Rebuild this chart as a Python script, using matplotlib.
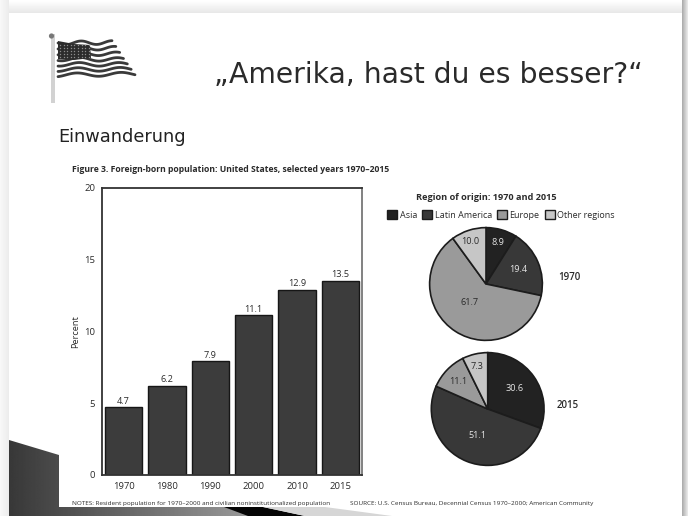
import numpy as np
import matplotlib
matplotlib.use('Agg')
import matplotlib.pyplot as plt
from matplotlib.patches import Polygon, Rectangle

W, H = 688, 516

# chart values
years = ['1970', '1980', '1990', '2000', '2010', '2015']
percent = [4.7, 6.2, 7.9, 11.1, 12.9, 13.5]
regions = ['Asia', 'Latin America', 'Europe', 'Other regions']
share_1970 = [8.9, 19.4, 61.7, 10.0]
share_2015 = [30.6, 51.1, 11.1, 7.3]
y_ticks = [0, 5, 10, 15, 20]

region_colors = ['#222222', '#383838', '#9a9a9a', '#c6c6c6']
label_colors = ['#e6e6e6', '#e6e6e6', '#2a2a2a', '#2a2a2a']
label_pos_1970 = [(.21, .74), (.58, .25), (-.30, -.32), (-.28, .75)]
label_pos_2015 = [(.48, .37), (-.19, -.47), (-.53, .49), (-.19, .75)]

CHART_FONT = 'Open Sans'
TEXT = '#2b2b2b'


def px_axes(fig, left, top, right, bottom, **kw):
    return fig.add_axes([left / W, 1 - bottom / H, (right - left) / W, (bottom - top) / H], **kw)


def gradient_fill(ax, poly, cmin, cmax, extent):
    # horizontal gray ramp clipped to a polygon
    ramp = np.linspace(cmin, cmax, 256).reshape(1, -1)
    im = ax.imshow(ramp, cmap='gray', vmin=0, vmax=1, extent=extent, aspect='auto', zorder=2)
    patch = Polygon(poly, closed=True, transform=ax.transData, fc='none', ec='none')
    ax.add_patch(patch)
    im.set_clip_path(patch)


def draw_slide(ax):
    # drop shadow around the slide
    yy, xx = np.mgrid[0:H, 0:W]
    shade = np.full((H, W), 0.97)
    shade = np.where(yy < 13, 1.0 - 0.10 * yy / 13, shade)
    shade = np.where(xx < 9, 0.97 - 0.05 * xx / 9, shade)
    right = np.clip((xx - 682) / 6, 0, 1)
    shade = np.where(xx >= 682, 0.68 + 0.27 * right, shade)
    ax.imshow(shade, cmap='gray', vmin=0, vmax=1, extent=(0, W, H, 0), aspect='auto', zorder=0)
    ax.add_patch(Rectangle((9, 13), 673, H - 13, fc='white', ec='none', zorder=1))

    # dark corner shape at the bottom left
    gradient_fill(ax, [(9, 440), (59, 455), (59, 507), (240, 507), (262, 516), (9, 516)],
                  0.22, 0.62, (9, 262, H, 440))
    ax.add_patch(Polygon([(224, 507), (263, 507), (305, 516), (248, 516)], fc='#050505', ec='none', zorder=3))
    ax.add_patch(Polygon([(263, 507), (325, 507), (392, 516), (305, 516)], fc='#d6d6d6', ec='none', zorder=3))


def draw_flag(ax):
    ax.add_patch(Rectangle((51, 34), 3.5, 69, fc='#d2d2d2', ec='none', zorder=3))
    ax.add_patch(plt.Circle((51.5, 36), 2.6, fc='#777777', ec='none', zorder=4))

    t = np.linspace(0, 1, 80)
    for frac in np.linspace(0, 1, 7):
        x = 58 + t * (54 + 23 * frac)
        base = 43 + 32 * frac + t * (2 - 3 * frac) - 5 * t * max(0, 0.5 - frac)
        y = base + 1.8 * np.sin(t * 11 + frac * 2)
        ax.plot(x, y, color='#3a3a3a', lw=2.0, solid_capstyle='round', zorder=3)

    ax.add_patch(Polygon([(58, 41), (74, 44), (90, 45), (91, 58), (74, 60), (58, 59)],
                         fc='#2c2c2c', ec='none', zorder=4))
    sx, sy = np.meshgrid(np.arange(60, 90, 3.6), np.arange(44.5, 58, 3.2))
    ax.scatter(sx.ravel(), sy.ravel(), s=1.0, c='#8c8c8c', linewidths=0, zorder=5)


fig = plt.figure(figsize=(W / 100, H / 100), dpi=100, facecolor='white')

bg = px_axes(fig, 0, 0, W, H)
bg.set_xlim(0, W)
bg.set_ylim(H, 0)
bg.axis('off')
draw_slide(bg)
draw_flag(bg)
bg.set_xlim(0, W)
bg.set_ylim(H, 0)

bg.text(428, 75, '\u201eAmerika, hast du es besser?\u201c', fontsize=20.3, color='#2a2a2a',
        family='DejaVu Sans', ha='center', va='center')
bg.text(58, 142, 'Einwanderung', fontsize=12.8, color='#222222', family='DejaVu Sans', ha='left', va='baseline')
bg.text(72, 169, 'Figure 3. Foreign-born population: United States, selected years 1970\u20132015',
        fontsize=6.2, fontweight='bold', color=TEXT, family=CHART_FONT, ha='left', va='center')
bg.text(72, 504, 'NOTES: Resident population for 1970\u20132000 and civilian noninstitutionalized population',
        fontsize=4.6, color=TEXT, family=CHART_FONT, ha='left', va='center')
bg.text(350, 504, 'SOURCE: U.S. Census Bureau, Decennial Census 1970\u20132000; American Community',
        fontsize=4.6, color=TEXT, family=CHART_FONT, ha='left', va='center')

# bar chart
ax = px_axes(fig, 102, 187.5, 362, 475)
ax.bar(range(len(years)), percent, width=0.866, color='#3c3c3c', edgecolor='#161616', linewidth=1.0)
for i, v in enumerate(percent):
    ax.text(i, v + 0.12, f'{v:.1f}', ha='center', va='bottom', fontsize=6.6, color=TEXT, family=CHART_FONT)
ax.set_xlim(-0.5, 5.5)
ax.set_ylim(0, 20)
ax.set_xticks(range(len(years)), years)
ax.set_yticks(y_ticks)
ax.tick_params(length=0, labelsize=6.8, labelcolor=TEXT, pad=5)
for lab in ax.get_xticklabels() + ax.get_yticklabels():
    lab.set_family(CHART_FONT)
ax.set_ylabel('Percent', fontsize=6.6, color=TEXT, family=CHART_FONT, labelpad=3)
for s in ax.spines.values():
    s.set_linewidth(1.3)
    s.set_color('#333333')
ax.spines['right'].set_color('#777777')


def draw_pie(center_x, center_y, radius, values, label_pos, year, year_x, year_y):
    pie_ax = px_axes(fig, center_x - radius, center_y - radius, center_x + radius, center_y + radius)
    pie_ax.pie(values, colors=region_colors, startangle=90, counterclock=False, radius=1,
               wedgeprops={'edgecolor': '#1c1c1c', 'linewidth': 1.2})
    pie_ax.set_xlim(-1.02, 1.02)
    pie_ax.set_ylim(-1.02, 1.02)
    for v, (lx, ly), c in zip(values, label_pos, label_colors):
        pie_ax.text(lx, ly, f'{v:.1f}', ha='center', va='center', fontsize=6.6, color=c, family=CHART_FONT)
    bg.text(year_x, year_y, year, fontsize=7, fontweight='semibold', color=TEXT,
            family=CHART_FONT, ha='center', va='center')


draw_pie(486, 284, 57.5, share_1970, label_pos_1970, '1970', 569, 277)
draw_pie(487.7, 409, 57.5, share_2015, label_pos_2015, '2015', 568, 406)

bg.text(486, 197, 'Region of origin: 1970 and 2015', fontsize=6.6, fontweight='bold', color=TEXT,
        family=CHART_FONT, ha='center', va='center')

# legend row above the pies
handles = [Rectangle((0, 0), 1, 1, fc=c, ec='#1c1c1c', lw=1.0) for c in region_colors]
bg.legend(handles, regions, ncol=4, loc='center', bbox_to_anchor=(501, 215), bbox_transform=bg.transData,
          frameon=False, handlelength=1.1, handleheight=1.1, handletextpad=0.25, columnspacing=0.6,
          borderpad=0, prop={'family': CHART_FONT, 'size': 6.5}, labelcolor=TEXT)

fig.savefig('out.png', dpi=100)
